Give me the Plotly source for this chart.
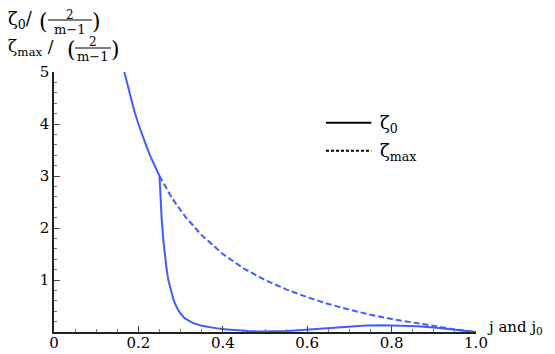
import plotly.graph_objects as go

# values
# upper branch (solid) down to the junction at j = 0.25
upper_j = [0.166, 0.18, 0.19, 0.20, 0.21, 0.22, 0.23, 0.24, 0.25]
upper_z = [5.02, 4.56, 4.26, 4.0, 3.76, 3.55, 3.35, 3.17, 3.0]

# zeta_max (dashed) from the junction to j = 1
max_j = [0.25, 0.28, 0.31, 0.35, 0.40, 0.45, 0.50, 0.55, 0.60, 0.65,
         0.70, 0.75, 0.80, 0.85, 0.90, 0.95, 1.0]
max_z = [3.0, 2.57, 2.23, 1.86, 1.5, 1.22, 1.0, 0.82, 0.67, 0.54,
         0.43, 0.33, 0.25, 0.18, 0.11, 0.05, 0.0]

# zeta_0 (solid) after the drop
low_j = [0.25, 0.252, 0.255, 0.259, 0.263, 0.267, 0.271, 0.277, 0.283, 0.291,
         0.299, 0.31, 0.33, 0.35, 0.37, 0.39, 0.41, 0.43, 0.46, 0.49,
         0.52, 0.55, 0.58, 0.62, 0.66, 0.70, 0.74, 0.78, 0.82, 0.86,
         0.90, 0.94, 0.97, 1.0]
low_z = [3.0, 2.6, 2.2, 1.77, 1.45, 1.2, 1.0, 0.8, 0.62, 0.47,
         0.36, 0.26, 0.17, 0.12, 0.09, 0.065, 0.05, 0.035, 0.02, 0.012,
         0.012, 0.02, 0.035, 0.06, 0.085, 0.11, 0.125, 0.13, 0.125, 0.11,
         0.085, 0.05, 0.025, 0.0]

x_ticks = [0, 0.2, 0.4, 0.6, 0.8, 1.0]
x_labels = ['0', '0.2', '0.4', '0.6', '0.8', '1.0']
y_ticks = [1, 2, 3, 4, 5]

BLUE = '#3f5ffb'
SERIF = 'DejaVu Serif'

fig = go.Figure()
fig.add_trace(go.Scatter(x=upper_j, y=upper_z, mode='lines',
                         line=dict(color=BLUE, width=2)))
fig.add_trace(go.Scatter(x=low_j, y=low_z, mode='lines',
                         line=dict(color=BLUE, width=2)))
fig.add_trace(go.Scatter(x=max_j, y=max_z, mode='lines',
                         line=dict(color=BLUE, width=2, dash='6px,3px')))

# the page body adds an 8px margin, so the figure is a bit smaller than the window
fig.update_layout(
    width=547, height=346,
    margin=dict(l=46, r=79, t=64, b=22),
    paper_bgcolor='white', plot_bgcolor='white',
    showlegend=False,
    font=dict(family=SERIF, size=15, color='black'),
)
fig.update_xaxes(
    range=[0, 1], tickvals=x_ticks, ticktext=x_labels,
    showgrid=False, zeroline=False, automargin=False,
    showline=True, linecolor='#222', linewidth=1.5,
    ticks='inside', ticklen=6, tickcolor='#444',
    minor=dict(dtick=0.05, tick0=0, ticks='inside', ticklen=3, tickcolor='#777'),
    tickfont=dict(family=SERIF, size=15),
    ticklabelstandoff=-4,
)
fig.update_yaxes(
    range=[0, 5], tickvals=y_ticks,
    showgrid=False, zeroline=False, automargin=False,
    showline=True, linecolor='#222', linewidth=1.5,
    ticks='inside', ticklen=6, tickcolor='#444',
    minor=dict(dtick=0.2, tick0=0, ticks='inside', ticklen=3, tickcolor='#777'),
    tickfont=dict(family=SERIF, size=15),
)

# y-axis title: two stacked fractions, placed in pixels from the plot's top-left corner
def txt(s, dx, dy, size, anchor='center'):
    fig.add_annotation(text=s, xref='paper', yref='paper', x=0, y=1,
                       xshift=dx, yshift=dy, xanchor=anchor, yanchor='middle',
                       showarrow=False, borderpad=0,
                       font=dict(family=SERIF, size=size))

def bar(x0, x1, dy):
    fig.add_shape(type='line', xref='paper', yref='paper',
                  xsizemode='pixel', xanchor=0, x0=x0, x1=x1,
                  ysizemode='pixel', yanchor=1, y0=dy, y1=dy,
                  line=dict(color='black', width=1))

txt('ζ<sub>0</sub>/', -47, 52, 18, 'left')
txt('(', -11, 51, 22)
bar(-6, 38, 52)
txt('2', 16, 57, 12)
txt('m−1', 16, 43, 13)
txt(')', 42, 51, 22)

txt('ζ<sub>max</sub> /', -47, 25, 17, 'left')
txt('(', 17, 23, 22)
bar(21, 57, 24)
txt('2', 39, 30, 12)
txt('m−1', 39, 16, 13)
txt(')', 61, 23, 22)

# x-axis title at the right end
fig.add_annotation(text='j and j<sub>0</sub>', xref='paper', yref='paper',
                   x=1, y=0, xanchor='left', yanchor='middle',
                   xshift=9, yshift=5, showarrow=False,
                   font=dict(family=SERIF, size=15))

# legend drawn by hand: black sample lines
fig.add_shape(type='line', xref='paper', yref='paper',
              x0=0.6445, x1=0.752, y0=0.805, y1=0.805,
              line=dict(color='black', width=2))
fig.add_shape(type='line', xref='paper', yref='paper',
              x0=0.6445, x1=0.752, y0=0.697, y1=0.697,
              line=dict(color='black', width=2, dash='3px,2px'))
fig.add_annotation(text='ζ<sub>0</sub>', xref='paper', yref='paper',
                   x=0.768, y=0.80, xanchor='left', yanchor='middle',
                   showarrow=False, font=dict(family=SERIF, size=18))
fig.add_annotation(text='ζ<sub>max</sub>', xref='paper', yref='paper',
                   x=0.768, y=0.692, xanchor='left', yanchor='middle',
                   showarrow=False, font=dict(family=SERIF, size=18))

fig.write_html("out.html")
